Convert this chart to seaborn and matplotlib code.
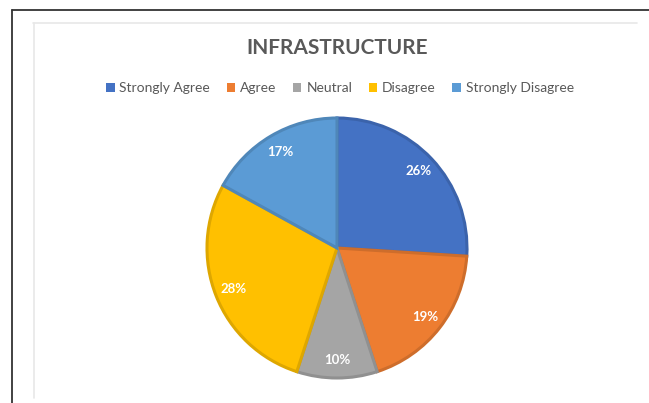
import matplotlib
matplotlib.use("Agg")
import matplotlib.pyplot as plt
import matplotlib.colors as mcolors
from matplotlib.patches import Patch
from matplotlib.lines import Line2D
import seaborn as sns

categories = ["Strongly Agree", "Agree", "Neutral", "Disagree", "Strongly Disagree"]
values = [26, 19, 10, 28, 17]
colors = ["#4472C4", "#ED7D31", "#A5A5A5", "#FFC000", "#5B9BD5"]
title = "INFRASTRUCTURE"

sns.set_theme(style="white")
plt.rcParams['font.family'] = ['Lato', 'DejaVu Sans']

W, H = 649, 403
fig = plt.figure(figsize=(W / 100, H / 100), dpi=100)
fig.patch.set_facecolor("white")
ax = fig.add_axes([0, 0, 1, 1])

palette = sns.color_palette(colors)
wedges, texts, autotexts = ax.pie(
    values, colors=palette, startangle=90, counterclock=False,
    center=(337, H - 248), radius=130,
    autopct=lambda p: f"{p:.0f}%", pctdistance=0.86,
    textprops=dict(color="white", fontsize=9.5, fontweight="bold"),
    wedgeprops=dict(linewidth=2.2),
)
for w, c in zip(wedges, palette):
    r, g, b = mcolors.to_rgb(c)
    w.set_edgecolor((r * 0.87, g * 0.87, b * 0.87))
ax.set_xlim(0, W)
ax.set_ylim(0, H)
ax.set_aspect("equal")
ax.set_axis_off()

fig.text(337 / W, 1 - 48 / H, title, ha="center", va="center",
         fontsize=15, fontweight="bold", color="#595959")

handles = [Patch(facecolor=c, edgecolor="none") for c in palette]
fig.legend(handles, categories, loc="center", bbox_to_anchor=(340 / W, 1 - 88 / H),
           ncol=5, frameon=False, fontsize=10, handlelength=0.6, handleheight=0.6,
           handletextpad=0.35, columnspacing=1.2, labelcolor="#595959")

# screenshot frame lines
fig.add_artist(Line2D([12 / W, 1], [1 - 10 / H, 1 - 10 / H], color="#333333", lw=1.3))
fig.add_artist(Line2D([12 / W, 12 / W], [1 - 10 / H, 0], color="#333333", lw=1.3))
fig.add_artist(Line2D([33 / W, 637 / W], [1 - 23 / H, 1 - 23 / H], color="#e8e8e8", lw=1.2))
fig.add_artist(Line2D([34 / W, 34 / W], [1 - 23 / H, 1 - 398 / H], color="#e8e8e8", lw=1.2))

fig.savefig("out.png", dpi=100)
